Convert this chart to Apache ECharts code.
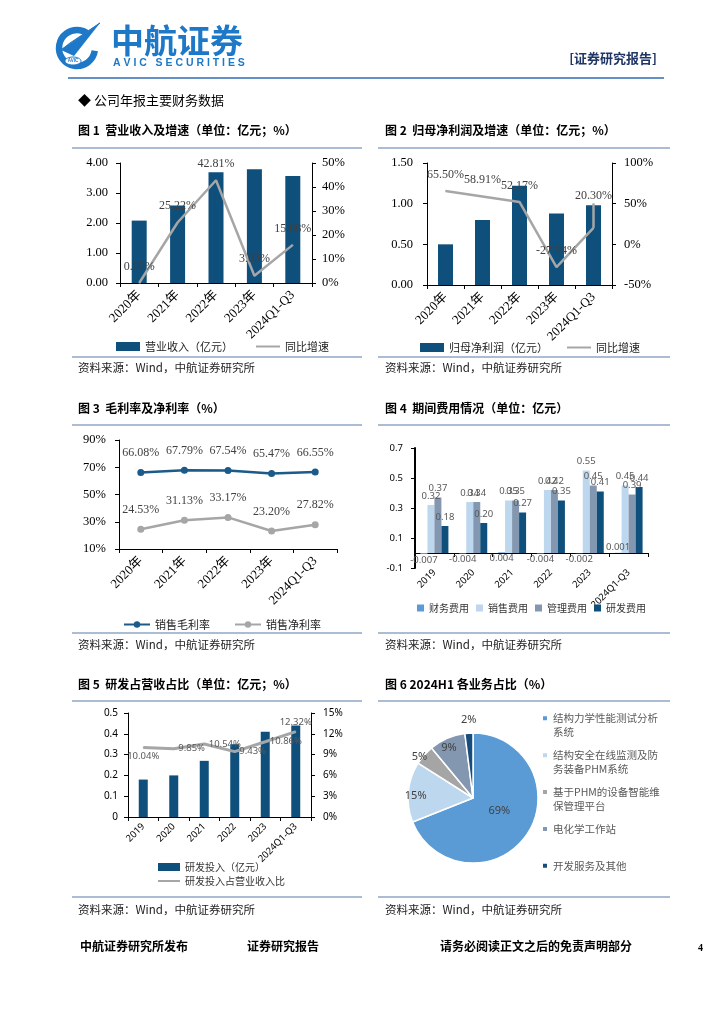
<!DOCTYPE html>
<html><head><meta charset="utf-8">
<script src="https://cdn.jsdelivr.net/npm/echarts@6/dist/echarts.min.js"></script>
<style>html,body{margin:0;padding:0;background:#fff}#c{width:724px;height:1024px}</style>
</head><body><div id="c"></div>
<script>
// ---------- data ----------
const years5 = ['2020年', '2021年', '2022年', '2023年', '2024Q1-Q3'];
const revenue = [2.08, 2.58, 3.69, 3.79, 3.57];
const revenueYoY = [0.00, 25.22, 42.81, 3.03, 15.88];
const netProfit = [0.50, 0.80, 1.22, 0.88, 0.98];
const netProfitYoY = [65.50, 58.91, 52.17, -27.94, 20.30];
const netProfitYoYJumpTop = 50.4;
const grossMargin = [66.08, 67.79, 67.54, 65.47, 66.55];
const netMargin = [24.53, 31.13, 33.17, 23.20, 27.82];
const years6 = ['2019', '2020', '2021', '2022', '2023', '2024Q1-Q3'];
const finExp = [-0.007, -0.004, 0.004, -0.004, -0.002, 0.001];
const salesExp = [0.32, 0.34, 0.35, 0.42, 0.55, 0.45];
const adminExp = [0.37, 0.34, 0.35, 0.42, 0.45, 0.39];
const rdExp = [0.18, 0.20, 0.27, 0.35, 0.41, 0.44];
const rdRatio = [10.04, 9.85, 10.54, 9.43, 10.86, 12.32];
const segNames = ['结构力学性能测试分析系统', '结构安全在线监测及防务装备PHM系统', '基于PHM的设备智能维保管理平台', '电化学工作站', '开发服务及其他'];
const segShares = [69, 15, 5, 9, 2];
const ticks3 = [10, 30, 50, 70, 90];
const ticks4 = [-0.1, 0.1, 0.3, 0.5, 0.7];

// ---------- styles ----------
const SERIF = "'Liberation Serif','Noto Sans CJK SC',serif";
const SANS = "'Noto Sans','Noto Sans CJK SC',sans-serif";
const CJK = "'Noto Sans CJK SC',sans-serif";
const DARK = '#0E4F7C', GREY = '#A6A6A6', FRAME = '#8EA7C6', NAVY = '#1B5A89';
const finLabelPos = ['bottom', 'bottom', 'bottom', 'bottom', 'bottom', 'top'];
const rdLabelPos = ['bottom', 'right', 'right', 'right', 'right', 'top'];
const pieLabelShift = [[-3, -7], [-22, 1], [-27, -18], [-10, -18], [-2, -43]];
const pieColors = ['#5B9BD5', '#BDD7EE', '#A5A5A5', '#8497B0', '#174C7C'];
const hiddenSymbol = { opacity: 0, color: 'rgba(0,0,0,0)', borderWidth: 0 };

function xCat(gi, data, font, size, margin, onZero) {
  return {
    type: 'category', gridIndex: gi, data: data, boundaryGap: true,
    axisLine: { show: true, onZero: !!onZero, lineStyle: { color: '#000', width: 1 } },
    axisTick: { show: true, alignWithLabel: false, length: 4, lineStyle: { color: '#000' } },
    axisLabel: { rotate: 45, interval: 0, color: '#000', fontFamily: font, fontSize: size, margin: margin }
  };
}
function yVal(gi, pos, min, max, interval, fmt, font, size, margin, extra) {
  const a = {
    type: 'value', gridIndex: gi, position: pos, min: min, max: max,
    splitLine: { show: false },
    axisLine: { show: true, lineStyle: { color: '#000', width: 1 } },
    axisTick: { show: true, length: 4, lineStyle: { color: '#000' } },
    axisLabel: { color: '#000', fontFamily: font, fontSize: size, margin: margin, formatter: fmt }
  };
  if (interval != null) a.interval = interval;
  if (extra) extra(a);
  return a;
}
function wrap(s, max) {
  const lines = []; let cur = '', u = 0;
  for (const ch of s) {
    const w = /[\x00-\x7F]/.test(ch) ? 0.68 : 1;
    if (u + w > max && cur) { lines.push(cur); cur = ''; u = 0; }
    cur += ch; u += w;
  }
  if (cur) lines.push(cur);
  return lines;
}

// ---------- graphic (page text & frames) ----------
const g = [];
function txt(x, y, s, font, fill, align) {
  g.push({ type: 'text', x: x, y: y, silent: true,
    style: { text: s, font: font, fill: fill || '#000', align: align || 'left', verticalAlign: 'middle' } });
}
function hline(x1, x2, y, color, w) {
  g.push({ type: 'line', silent: true, shape: { x1: x1, y1: y, x2: x2, y2: y }, style: { stroke: color, lineWidth: w } });
}
// logo
g.push({ type: 'arc', silent: true, shape: { cx: 77, cy: 48, r: 18, startAngle: 0.05 * Math.PI, endAngle: 1.68 * Math.PI, clockwise: true },
  style: { stroke: '#1E78C8', lineWidth: 6.5, fill: null } });
g.push({ type: 'polygon', silent: true, shape: { points: [[61, 50], [100, 23], [74, 56]] }, style: { fill: '#1E78C8' } });
g.push({ type: 'polygon', silent: true, shape: { points: [[61, 50], [100, 23], [70, 43]] }, style: { fill: '#A9D2F1', stroke: '#1E78C8', lineWidth: 1 } });
g.push({ type: 'ellipse', silent: true, shape: { cx: 73, cy: 61, rx: 8, ry: 4 }, style: { fill: '#fff', stroke: '#1E78C8', lineWidth: 1 } });
txt(73, 61, 'AVIC', "bold 4.5px 'Liberation Sans'", '#1E78C8', 'center');
txt(111, 40, '中航证券', "bold 33px " + CJK, '#1E78C8');
txt(113, 63, 'A V I C   S E C U R I T I E S', "bold 10.5px 'Liberation Sans'", '#1E78C8');
txt(657, 58, '[证券研究报告]', "bold 13px " + CJK, '#1F3566', 'right');
hline(68, 664, 78, '#2F6DB5', 1.5);
txt(78, 100, '◆ 公司年报主要财务数据', "13px " + CJK, '#000');
// chart frames
const TF = "bold 12px " + CJK, SF = "11.5px " + CJK;
txt(78, 130, '图 1  营业收入及增速（单位：亿元；%）', TF);
txt(385, 130, '图 2  归母净利润及增速（单位：亿元；%）', TF);
txt(78, 408, '图 3  毛利率及净利率（%）', TF);
txt(385, 408, '图 4  期间费用情况（单位：亿元）', TF);
txt(78, 684, '图 5  研发占营收占比（单位：亿元；%）', TF);
txt(385, 684, '图 6 2024H1 各业务占比（%）', TF);
[148, 357, 425, 633, 701, 897].forEach(y => { hline(72, 362, y, FRAME, 1.5); hline(378, 670, y, FRAME, 1.5); });
[[78, 368], [385, 368], [78, 645], [385, 645], [78, 910], [385, 910]].forEach(p => txt(p[0], p[1], '资料来源：Wind，中航证券研究所', SF, '#222'));
// footer
txt(80, 946, '中航证券研究所发布', "bold 12px " + CJK);
txt(247, 946, '证券研究报告', "bold 12px " + CJK);
txt(440, 946, '请务必阅读正文之后的免责声明部分', "bold 12px " + CJK);
txt(698, 948, '4', "bold 10px 'Liberation Serif'");

// ---------- option ----------
const pctFmt = v => v + '%';
const lineLabel = { show: true, position: 'top', distance: 10, fontFamily: SERIF, fontSize: 12, color: '#404040',
  formatter: p => Number(p.value).toFixed(2) + '%' };
const option = {
  animation: false,
  backgroundColor: '#fff',
  graphic: g,
  grid: [
    { left: 120, top: 163, width: 192, height: 120 },
    { left: 427, top: 163, width: 185, height: 122 },
    { left: 119, top: 440, width: 218, height: 109 },
    { left: 415, top: 448, width: 233, height: 120 },
    { left: 128, top: 713, width: 183, height: 104 }
  ],
  xAxis: [
    xCat(0, years5, SERIF, 13, 10),
    xCat(1, years5, SERIF, 13, 10),
    xCat(2, years5, SERIF, 13, 10),
    xCat(3, years6, SANS, 9.5, 3, true),
    xCat(4, years6, SANS, 9.5, 8)
  ],
  yAxis: [
    yVal(0, 'left', 0, 4, 1, v => v.toFixed(2), SERIF, 12.5, 12),
    yVal(0, 'right', 0, 50, 10, pctFmt, SERIF, 12.5, 10),
    yVal(1, 'left', 0, 1.5, 0.5, v => v.toFixed(2), SERIF, 12.5, 14),
    yVal(1, 'right', -50, 100, 50, pctFmt, SERIF, 12.5, 12),
    yVal(2, 'left', 10, 90, null, pctFmt, SERIF, 12.5, 13, a => {
      a.axisLabel.customValues = ticks3; a.axisTick.customValues = ticks3;
    }),
    yVal(3, 'left', -0.1, 0.7, null, v => v.toFixed(1), SANS, 9.5, 12, a => {
      a.axisLabel.customValues = ticks4; a.axisTick.customValues = ticks4; a.axisLine.lineStyle.width = 2;
    }),
    yVal(4, 'left', 0, 0.5, 0.1, v => String(Math.round(v * 10) / 10), SANS, 10, 10),
    yVal(4, 'right', 0, 15, 3, pctFmt, SANS, 10, 12)
  ],
  legend: [
    { left: 116, top: 341, padding: 0, itemWidth: 24, itemHeight: 9, itemGap: 22,
      textStyle: { fontFamily: CJK, fontSize: 11, color: '#222' },
      data: [{ name: '营业收入（亿元）', icon: 'rect' }, { name: '同比增速', itemStyle: hiddenSymbol }] },
    { left: 420, top: 342, padding: 0, itemWidth: 24, itemHeight: 9, itemGap: 18,
      textStyle: { fontFamily: CJK, fontSize: 11, color: '#222' },
      data: [{ name: '归母净利润（亿元）', icon: 'rect' }, { name: '同比增速', itemStyle: hiddenSymbol }] },
    { left: 123, top: 619, padding: 0, itemWidth: 26, itemHeight: 8, itemGap: 24,
      textStyle: { fontFamily: CJK, fontSize: 11, color: '#222' },
      data: ['销售毛利率', '销售净利率'] },
    { left: 417, top: 603, padding: 0, itemWidth: 7, itemHeight: 7, itemGap: 7, icon: 'rect',
      textStyle: { fontFamily: CJK, fontSize: 10, color: '#333' },
      data: ['财务费用', '销售费用', '管理费用', '研发费用'] },
    { left: 157, top: 862, padding: 0, orient: 'vertical', itemWidth: 22, itemHeight: 8, itemGap: 4,
      textStyle: { fontFamily: CJK, fontSize: 10, color: '#333', width: 104, overflow: 'truncate', ellipsis: '' },
      data: [{ name: '研发投入（亿元）', icon: 'rect' }, { name: '研发投入占营业收入比例', itemStyle: hiddenSymbol }] },
    { left: 541, top: 699, padding: 0, orient: 'vertical', itemWidth: 6, itemHeight: 6, itemGap: -1.6, icon: 'rect',
      textStyle: { fontFamily: CJK, fontSize: 10.5, color: '#595959',
        rich: { a: { fontFamily: CJK, fontSize: 10.5, color: '#595959', lineHeight: 14 }, e: { fontSize: 10.5, lineHeight: 14 } } },
      formatter: name => {
        const L = wrap(name, 10.2);
        const rows = L.length === 1 ? ['{e| }', '{a|' + L[0] + '}', '{e| }'] : ['{e| }'].concat(L.map(l => '{a|' + l + '}'));
        return rows.join('\n');
      },
      data: segNames }
  ],
  series: [
    { name: '营业收入（亿元）', type: 'bar', xAxisIndex: 0, yAxisIndex: 0, data: revenue, barWidth: 15,
      itemStyle: { color: DARK } },
    { name: '同比增速', type: 'line', xAxisIndex: 0, yAxisIndex: 1, data: revenueYoY, symbol: 'circle', symbolSize: 1,
      lineStyle: { color: GREY, width: 2.5 }, itemStyle: { color: GREY }, label: lineLabel },
    { name: '归母净利润（亿元）', type: 'bar', xAxisIndex: 1, yAxisIndex: 2, data: netProfit, barWidth: 15,
      itemStyle: { color: DARK } },
    { name: '同比增速', type: 'line', xAxisIndex: 1, yAxisIndex: 3, symbol: 'circle', symbolSize: 1,
      data: netProfitYoY.map((v, i) => i === 4 ? { value: v, label: { distance: 25 } } : v),
      lineStyle: { color: GREY, width: 2.5 }, itemStyle: { color: GREY }, label: lineLabel,
      markLine: { silent: true, symbol: ['none', 'none'], label: { show: false },
        lineStyle: { color: GREY, width: 2.5, type: 'solid' },
        data: [[{ coord: [4, netProfitYoY[4]] }, { coord: [4, netProfitYoYJumpTop] }]] } },
    { name: '销售毛利率', type: 'line', xAxisIndex: 2, yAxisIndex: 4, data: grossMargin, symbol: 'circle', symbolSize: 7,
      lineStyle: { color: NAVY, width: 2.5 }, itemStyle: { color: NAVY }, label: lineLabel },
    { name: '销售净利率', type: 'line', xAxisIndex: 2, yAxisIndex: 4, data: netMargin, symbol: 'circle', symbolSize: 7,
      lineStyle: { color: GREY, width: 2.5 }, itemStyle: { color: GREY }, label: lineLabel },
    { name: '财务费用', type: 'bar', xAxisIndex: 3, yAxisIndex: 5, barWidth: 7, barGap: '0%',
      data: finExp.map((v, i) => ({ value: v, label: { position: finLabelPos[i] } })),
      itemStyle: { color: '#5B9BD5' },
      label: { show: true, distance: 1, fontFamily: SANS, fontSize: 9.5, color: '#595959', formatter: p => Number(p.value).toFixed(3) } },
    { name: '销售费用', type: 'bar', xAxisIndex: 3, yAxisIndex: 5, barWidth: 7, barGap: '0%', data: salesExp,
      itemStyle: { color: '#BDD7EE' },
      label: { show: true, position: 'top', distance: 4, fontFamily: SANS, fontSize: 9.5, color: '#595959', formatter: p => Number(p.value).toFixed(2) } },
    { name: '管理费用', type: 'bar', xAxisIndex: 3, yAxisIndex: 5, barWidth: 7, barGap: '0%', data: adminExp,
      itemStyle: { color: '#8497B0' },
      label: { show: true, position: 'top', distance: 4, fontFamily: SANS, fontSize: 9.5, color: '#595959', formatter: p => Number(p.value).toFixed(2) } },
    { name: '研发费用', type: 'bar', xAxisIndex: 3, yAxisIndex: 5, barWidth: 7, barGap: '0%', data: rdExp,
      itemStyle: { color: DARK },
      label: { show: true, position: 'top', distance: 4, fontFamily: SANS, fontSize: 9.5, color: '#595959', formatter: p => Number(p.value).toFixed(2) } },
    { name: '研发投入（亿元）', type: 'bar', xAxisIndex: 4, yAxisIndex: 6, data: rdExp, barWidth: 9,
      itemStyle: { color: DARK } },
    { name: '研发投入占营业收入比例', type: 'line', xAxisIndex: 4, yAxisIndex: 7, symbol: 'circle', symbolSize: 1,
      data: rdRatio.map((v, i) => ({ value: v, label: { position: rdLabelPos[i] } })),
      lineStyle: { color: GREY, width: 3 }, itemStyle: { color: GREY },
      label: { show: true, distance: 4, fontFamily: SANS, fontSize: 9.5, color: '#595959',
        formatter: p => Number(p.value).toFixed(2) + '%' } },
    { name: '各业务占比', type: 'pie', center: [473, 798], radius: [0, 65], startAngle: 90, clockwise: true,
      data: segNames.map((n, i) => ({ name: n, value: segShares[i], itemStyle: { color: pieColors[i] } })),
      itemStyle: { borderColor: '#fff', borderWidth: 1.5 },
      label: { show: true, position: 'inside', fontFamily: SANS, fontSize: 11, color: '#404040', formatter: p => p.value + '%' },
      labelLine: { show: false },
      labelLayout: p => ({ dx: pieLabelShift[p.dataIndex][0], dy: pieLabelShift[p.dataIndex][1] }) }
  ]
};
const chart = echarts.init(document.getElementById('c'), null, { renderer: 'canvas' });
chart.setOption(option);
</script>
</body></html>
